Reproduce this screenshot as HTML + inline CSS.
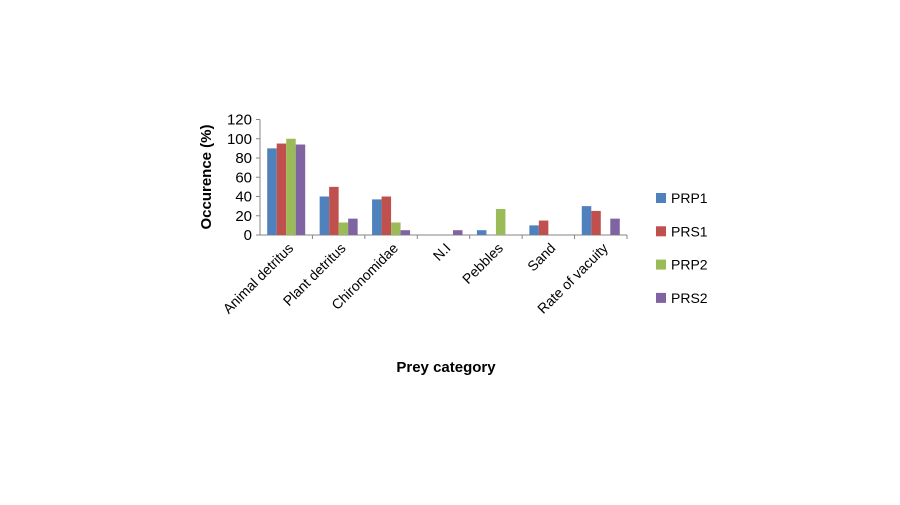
<!DOCTYPE html>
<html><head><meta charset="utf-8"><style>
body{margin:0;background:#fff;font-family:"Liberation Sans",sans-serif}
</style></head><body>
<svg width="900" height="500" id="c" font-family="Liberation Sans, sans-serif"></svg>
<script>
const categories=["Animal detritus","Plant detritus","Chironomidae","N.I","Pebbles","Sand","Rate of vacuity"];
const seriesNames=["PRP1","PRS1","PRP2","PRS2"];
const prp1=[90,40,37,0,5,10,30];
const prs1=[95,50,40,0,0,15,25];
const prp2=[100,13,13,0,27,0,0];
const prs2=[94,17,5,5,0,0,17];
const yTicks=[0,20,40,60,80,100,120];
const colors=["#4f81bd","#c0504d","#9bbb59","#8064a2"];
const series=[prp1,prs1,prp2,prs2];
const svg=document.getElementById('c');const NS="http://www.w3.org/2000/svg";
function mk(t,a,p){const e=document.createElementNS(NS,t);for(const k in a)e.setAttribute(k,a[k]);(p||svg).appendChild(e);return e;}
const x0=260,x1=627,y0=235,yTop=119.5;
const y=v=>y0-(v/120)*(y0-yTop);
const cw=(x1-x0)/categories.length,bw=9.5;
let e=mk('line',{x1:x0,y1:yTop,x2:x0,y2:y0,stroke:'#868686'});

e=mk('line',{x1:x0,y1:y0,x2:x1,y2:y0,stroke:'#868686'});

yTicks.forEach(t=>{
 e=mk('line',{x1:x0-4,y1:y(t),x2:x0,y2:y(t),stroke:'#868686'});
 
 e=mk('text',{x:x0-8,y:y(t)+5,'text-anchor':'end','font-size':15,fill:'#000'});e.textContent=t;
 
});
categories.forEach((c,i)=>{
 const cx=x0+cw*(i+0.5);
 e=mk('line',{x1:x0+cw*(i+1),y1:y0,x2:x0+cw*(i+1),y2:y0+4,stroke:'#868686'});
 
 series.forEach((s,j)=>{
  const v=s[i];if(!v)return;
  e=mk('rect',{x:cx-2*bw+j*bw,y:y(v),width:bw,height:y0-y(v),fill:colors[j]});
  
 });
 e=mk('text',{x:cx+8,y:y0+14,'text-anchor':'end','font-size':14,transform:`rotate(-45 ${cx+8} ${y0+14})`});e.textContent=c;
 
});
e=mk('text',{x:211,y:177,'text-anchor':'middle','font-size':15,'font-weight':'bold',transform:'rotate(-90 211 177)'});e.textContent='Occurence (%)';

e=mk('text',{x:446,y:372,'text-anchor':'middle','font-size':15,'font-weight':'bold'});e.textContent='Prey category';

seriesNames.forEach((n,j)=>{
 const ly=198+j*33.3;
 const g=mk('g',{});
 mk('rect',{x:656,y:ly-5,width:10,height:10,fill:colors[j]},g);
 const t=mk('text',{x:671,y:ly+5,'font-size':14},g);t.textContent=n;
});
</script>
</body></html>
